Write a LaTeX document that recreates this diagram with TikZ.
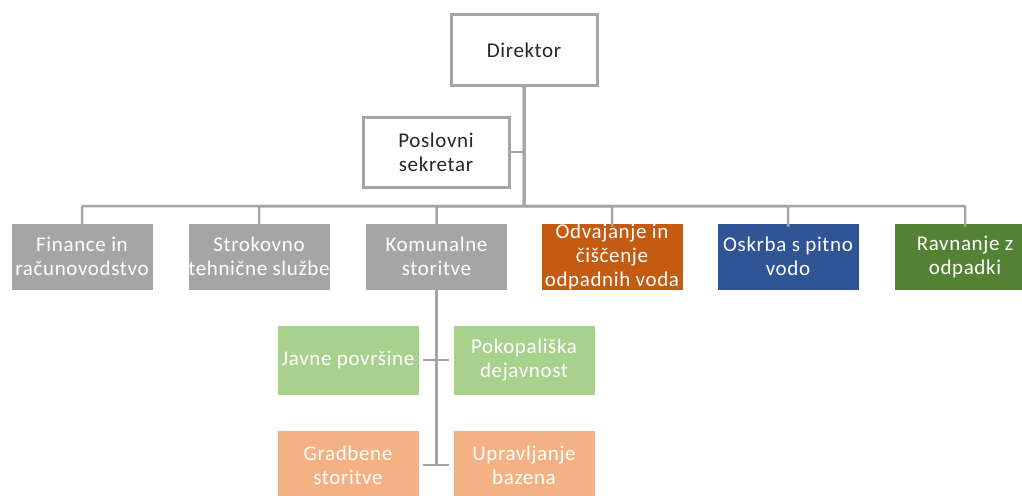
\documentclass[tikz,border=0pt]{standalone}
\usepackage{fontspec}
\setmainfont{Carlito}[LetterSpace=3]
\definecolor{boxgray}{HTML}{A5A5A5}
\definecolor{lineg}{HTML}{A5A5A5}
\definecolor{orng}{HTML}{C55A11}
\definecolor{blu}{HTML}{2F5597}
\definecolor{grn}{HTML}{548235}
\definecolor{lgrn}{HTML}{A9D18E}
\definecolor{lorng}{HTML}{F4B183}
\definecolor{txtdark}{HTML}{262626}
\begin{document}
\begin{tikzpicture}[x=1pt,y=-1pt,
  every node/.style={font=\fontsize{21}{24}\selectfont, align=center, inner sep=0pt},
  topbox/.style={draw=boxgray, line width=3pt, fill=white, text=txtdark, minimum width=146pt, minimum height=71pt},
  unit/.style={draw=white, line width=0.6pt, text=white, minimum width=142pt, minimum height=67pt},
  subunit/.style={draw=white, line width=0.6pt, text=white, minimum width=142pt, minimum height=70pt},
  conn/.style={draw=lineg, line width=2.5pt},
  stub/.style={draw=lineg, line width=2.5pt, shorten >=4pt, shorten <=4pt}]
\useasboundingbox (0,0) rectangle (1022,495);
\clip (0,0) rectangle (1022,495);
\fill[white] (0,0) rectangle (1022,495);

\node[topbox] (dir) at (524,50) {Direktor};
\node[topbox, minimum height=70pt] (sek) at (436,152) {Poslovni\\sekretar};

\node[unit, fill=boxgray] (fin) at (82,256.5) {Finance in\\računovodstvo};
\node[unit, fill=boxgray] (str) at (259,256.5) {Strokovno\\tehnične službe};
\node[unit, fill=boxgray] (kom) at (436.5,256.5) {Komunalne\\storitve};
\node[unit, fill=orng] (odv) at (612,256.5) {Odvajanje in\\čiščenje\\odpadnih voda};
\node[unit, fill=blu] (osk) at (788,256.5) {Oskrba s pitno\\vodo};
\node[unit, fill=grn] (rav) at (965,256.5) {Ravnanje z\\odpadki};

\node[subunit, fill=lgrn] (jav) at (348,360) {Javne površine};
\node[subunit, fill=lgrn] (pok) at (524,360) {Pokopališka\\dejavnost};
\node[subunit, fill=lorng] (gra) at (348,465) {Gradbene\\storitve};
\node[subunit, fill=lorng] (upr) at (524,465) {Upravljanje\\bazena};

\coordinate (bus) at (524,206);
\foreach \c in {fin,str,kom,odv,osk,rav}{
  \draw[conn, rounded corners=1pt] (dir.south) -- (bus) -| ([yshift=-4pt]\c.north);
}
\draw[conn] (sek.east) -- (sek.east -| dir.south);

\coordinate (kb) at (kom.south |- gra.east);
\draw[conn] ([yshift=4pt]kom.south) -- (kb);
\draw[stub] (jav.east) -- (pok.west);
\draw[stub] (gra.east) -- (upr.west);
\end{tikzpicture}
\end{document}
